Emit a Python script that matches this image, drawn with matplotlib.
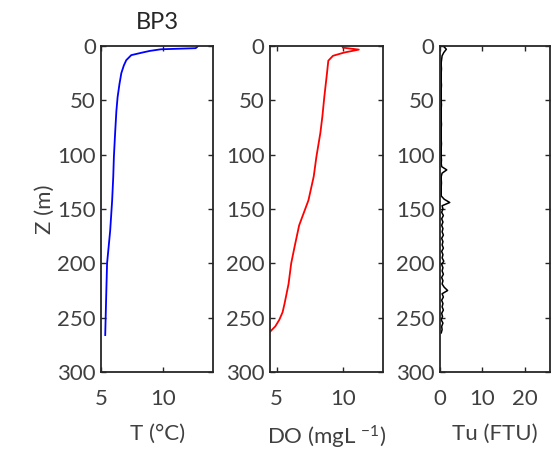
import numpy as np
import matplotlib.pyplot as plt

plt.rcParams['font.family'] = ['Lato', 'DejaVu Sans']
plt.rcParams['mathtext.default'] = 'regular'
txt = '#404040'

# temperature profile
t_z = [0, 2, 3, 4.5, 6, 8.4, 13, 18, 25, 35, 47, 60, 80, 102, 120, 142, 170, 200, 230, 266]
t_val = [12.8, 12.6, 9.8, 8.9, 8.3, 7.4, 7.0, 6.8, 6.6, 6.45, 6.3, 6.2, 6.1, 6.0, 5.95, 5.86, 5.7, 5.45, 5.38, 5.3]

# dissolved oxygen profile
do_z = [0, 1.5, 3.3, 6, 9, 13.5, 25, 46.6, 65, 80, 102, 120, 142, 165, 185, 200, 219, 237, 245, 252, 258, 263]
do_val = [9.95, 10.0, 11.2, 10.1, 9.25, 8.9, 8.8, 8.6, 8.45, 8.3, 8.0, 7.8, 7.4, 6.7, 6.35, 6.1, 5.9, 5.6, 5.45, 5.2, 4.9, 4.5]

# turbidity, every 3 m
tu_val = [0.8, 1.5, 0.9, 0.5, 0.4,
          0.3, 0.3, 0.35, 0.3, 0.3, 0.3, 0.3, 0.35, 0.3, 0.3, 0.3, 0.3, 0.3, 0.35, 0.3, 0.3,
          0.3, 0.3, 0.3, 0.35, 0.3, 0.3, 0.3, 0.3, 0.3, 0.35, 0.3, 0.3, 0.3, 0.3, 0.35, 0.3,
          0.4, 1.6, 0.5,
          0.3, 0.3, 0.35, 0.3, 0.3, 0.3, 0.3,
          1.0, 2.3, 0.5, 0.7, 0.4, 0.8, 0.4, 0.7, 0.4, 0.7, 0.5, 0.8, 0.4, 0.7, 0.5, 0.8,
          0.4, 0.7, 0.5, 0.9, 0.4, 0.7, 0.5, 0.8, 0.4, 0.7, 0.5, 1.0, 1.8, 0.5, 0.8, 0.4,
          0.7, 0.5, 0.8, 0.4, 0.6, 0.3, 0.7, 0.4, 0.5, 0.3]
tu_z = np.arange(0, 3 * len(tu_val), 3)

fig = plt.figure(figsize=(5.51, 4.57), dpi=100)
ax1 = fig.add_axes([0.1842, 0.186, 0.2024, 0.7133])
ax2 = fig.add_axes([0.4900, 0.186, 0.2045, 0.7133])
ax3 = fig.add_axes([0.7985, 0.186, 0.2000, 0.7133])

ax1.plot(t_val, t_z, color='#0000ff', lw=1.3)
ax2.plot(do_val, do_z, color='#ff0000', lw=1.3)
ax3.plot(tu_val, tu_z, color='black', lw=1.1)

ax1.set_xlim(5, 14)
ax1.set_xticks([5, 10])
ax2.set_xlim(4.5, 13)
ax2.set_xticks([5, 10])
ax3.set_xlim(0, 26)
ax3.set_xticks([0, 10, 20])

for ax in (ax1, ax2, ax3):
    ax.set_ylim(300, 0)
    ax.set_yticks(range(0, 301, 50))
    ax.tick_params(direction='in', top=True, right=True, length=3.5, width=1,
                   labelsize=16, colors='#262626', labelcolor=txt)
    ax.tick_params(axis='x', pad=12)
    ax.tick_params(axis='y', pad=4)
    for s in ax.spines.values():
        s.set_color('#262626')
        s.set_linewidth(1.3)

ax1.set_title('BP3', fontsize=17, color='#262626', pad=12)
ax1.set_ylabel('Z (m)', fontsize=16, color=txt, labelpad=2)
ax1.set_xlabel('T (°C)', fontsize=16, color=txt, labelpad=11)
ax2.set_xlabel('DO (mgL $^{-1}$)', fontsize=16, color=txt, labelpad=11)
ax3.set_xlabel('Tu (FTU)', fontsize=16, color=txt, labelpad=11)

plt.savefig('out.png', dpi=100)
